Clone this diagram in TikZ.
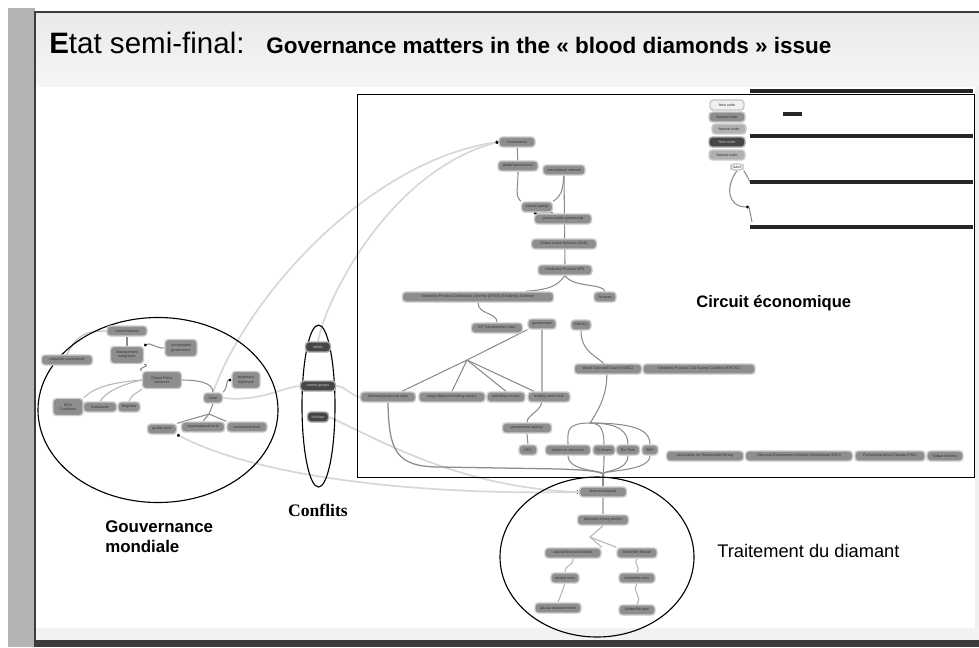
\documentclass[tikz,border=0pt]{standalone}
\usepackage{fontspec}
\setmainfont{Liberation Sans}
\newfontfamily\serifbf{Liberation Serif}
\usetikzlibrary{positioning, arrows.meta, shapes.geometric, calc}
\definecolor{NodeGray}{RGB}{142,142,142}
\definecolor{NodeDark}{RGB}{70,70,70}
\definecolor{LinkGray}{RGB}{140,140,140}
\definecolor{SoftGray}{RGB}{185,185,185}
\definecolor{FarGray}{RGB}{215,215,215}
\definecolor{StripGray}{RGB}{180,180,180}
\definecolor{FrameDark}{RGB}{60,60,60}
\def\pxu{0.025cm}
\pgfdeclarelayer{bg}
\pgfdeclarelayer{edges}
\pgfsetlayers{bg,edges,main}
\tikzset{
  cbox/.style={rectangle, rounded corners=2.4pt, fill=NodeGray, draw=gray!40, line width=1pt,
    inner sep=0.4pt, minimum height=10*\pxu, font=\fontsize{2.6}{3}\selectfont, text=black!80},
  dbox/.style={cbox, fill=NodeDark, draw=gray!65, text=gray!45},
  lbox/.style={cbox, fill=gray!12, draw=gray!45},
  twoline/.style={align=center, minimum height=17*\pxu},
  link/.style={draw=LinkGray, line width=0.75pt},
  softlink/.style={draw=SoftGray, line width=0.8pt},
  farlink/.style={draw=FarGray, line width=1.2pt},
  zone/.style={draw=black, ellipse, line width=0.8pt, inner sep=0pt},
  legbar/.style={draw=black!85, line width=2.3pt},
  blackdot/.style={-{Circle[length=2pt, color=black]}},
}

\begin{document}
\begin{tikzpicture}[x=0.025cm, y=-0.025cm, >=Latex]
\useasboundingbox (0,0) rectangle (979,647);
% slide frame
\begin{pgfonlayer}{bg}
  \fill[white] (0,0) rectangle (979,647);
  \fill[StripGray] (8,8) rectangle (35,647);
  \shade[top color=gray!17, bottom color=gray!7] (35,12) rectangle (979,86);
  \fill[gray!10] (35,628) rectangle (979,640);
  \fill[FrameDark] (35,640) rectangle (979,647);
  \fill[gray!12] (975,86) rectangle (979,628);
  \draw[FrameDark, line width=1.2pt] (979,12) -- (35,12) -- (35,647);
\end{pgfonlayer}

% Title
\node[inner sep=0, anchor=base west, font=\fontsize{21}{25}\selectfont] (title) at (49,53) {{\bfseries E}tat semi-final:};
\node[inner sep=0, anchor=base west, font=\bfseries\fontsize{16}{19}\selectfont] (subtitle) at (266,53) {Governance matters in the « blood diamonds » issue};

% Circuit economique box
\node[draw, line width=0.9pt, inner sep=0, anchor=north west, minimum width=617*\pxu, minimum height=383*\pxu] (circuitbox) at (357,94) {};
\node[inner sep=0, anchor=base west, font=\bfseries\fontsize{11.8}{14}\selectfont] (circuitlbl) at (696,307) {Circuit économique};

% legend
\draw[legbar] (750,91) -- (973,91);
\draw[legbar] (783,114) -- (802,114);
\draw[legbar] (750,136) -- (973,136);
\draw[legbar] (750,182) -- (973,182);
\draw[legbar] (750,227) -- (973,227);
\node[lbox, minimum width=34*\pxu] (lnew) at (727,105) {New node};
\node[cbox, minimum width=36*\pxu] (lnorm1) at (727,117) {Normal node};
\node[cbox, fill=gray!60, minimum width=34*\pxu] (lnorm2) at (729,129) {Normal node};
\node[dbox, minimum width=36*\pxu] (lroot) at (727,142) {Root node};
\node[cbox, fill=gray!62, minimum width=36*\pxu] (lnorm3) at (727,155) {Normal node};
\node[lbox, fill=white, minimum width=12*\pxu, minimum height=6*\pxu] (llab) at (737,167) {label};
\coordinate (ldot) at (749,207);

% Circuit nodes
\node[cbox, minimum width=36*\pxu] (cgov) at (517,142) {Governance};
\node[cbox, minimum width=40*\pxu] (cglob) at (518,166) {global governance};
\node[cbox, minimum width=42*\pxu] (cnet) at (564,170) {international network};
\node[cbox, minimum width=31*\pxu] (cgrp) at (537,207) {interest group};
\node[cbox, minimum width=57*\pxu] (cppp) at (563,219) {private public partnership};
\node[cbox, minimum width=65*\pxu] (cgan) at (564,244) {Global Action Network (GAN)};
\node[cbox, minimum width=54*\pxu] (ckp) at (565,270) {Kimberley Process (KP)};
\node[cbox, minimum width=151*\pxu] (ckpcs) at (478,297) {Kimberley Process Certification Scheme (KPCS) (Kimberley Scheme)};
\node[cbox, minimum width=22*\pxu] (csrc) at (605,297) {Sources};
\node[cbox, minimum width=51*\pxu] (ctrans) at (497,328) {KP Transparency rules};
\node[cbox, minimum width=28*\pxu] (cgovt) at (542,324) {government};
\node[cbox, minimum width=20*\pxu] (cind) at (581,325) {industry};
\node[cbox, minimum width=67*\pxu] (cwdc) at (608,369) {World Diamond Council (WDC)};
\node[cbox, minimum width=112*\pxu] (ckpcsc) at (699,369) {Kimberley Process Civil Society Coalition (KPCSC)};
\node[cbox, minimum width=55*\pxu] (cprod) at (388,397) {diamond producing state};
\node[cbox, minimum width=66*\pxu] (crough) at (452,397) {rough diamond trading country};
\node[cbox, minimum width=38*\pxu] (cpol) at (506,397) {polishing country};
\node[cbox, minimum width=42*\pxu] (ctrade) at (549,397) {trading centre hub};
\node[cbox, minimum width=49*\pxu] (cagency) at (527,428) {government agency};
\node[cbox, minimum width=18*\pxu] (cddi) at (528,450) {DDII};
\node[cbox, minimum width=45*\pxu] (cdeal) at (568,450) {dealers in diamonds};
\node[cbox, minimum width=22*\pxu] (cbeers) at (604,450) {De Beers};
\node[cbox, minimum width=23*\pxu] (crio) at (628,450) {Rio Tinto};
\node[cbox, minimum width=16*\pxu] (cbhp) at (650,450) {BHP};
\node[cbox, minimum width=77*\pxu] (carm) at (705,456) {Association for Responsible Mining};
\node[cbox, minimum width=107*\pxu] (cddii) at (799,456) {Diamond Development Initiative International (DDII)};
\node[cbox, minimum width=70*\pxu] (cpac) at (890,456) {Partnership Africa Canada (PAC)};
\node[cbox, minimum width=36*\pxu] (cgw) at (945,456) {Global Witness};

% Gouvernance mondiale
\node[zone, minimum width=240*\pxu, minimum height=185*\pxu] (gouvzone) at (158,410) {};
\node[cbox, minimum width=40*\pxu] (gun) at (127,331) {United Nations};
\node[cbox, minimum width=51*\pxu] (gcorp) at (67,360) {corporate governance};
\node[cbox, twoline, minimum width=33*\pxu] (gman) at (127,355) {Management\\Integration};
\node[cbox, twoline, minimum width=32*\pxu] (gacc) at (181,348) {accountable\\governance};
\node[cbox, twoline, minimum width=39*\pxu] (gpol) at (162,380) {Global Policy\\Networks};
\node[cbox, twoline, minimum width=28*\pxu] (glegit) at (246,380) {legitimacy\\legitimate};
\node[cbox, minimum width=19*\pxu] (ghub) at (213,398) {State};
\node[cbox, twoline, minimum width=30*\pxu] (gngo) at (68,407) {NGO\\Coalitions};
\node[cbox, minimum width=33*\pxu] (ginsti) at (100,407) {Institutions};
\node[cbox, minimum width=22*\pxu] (greg) at (129,407) {Regimes};
\node[cbox, minimum width=29*\pxu] (gqual) at (162,429) {quality level};
\node[cbox, minimum width=43*\pxu] (gorg) at (203,427) {organisational level};
\node[cbox, minimum width=40*\pxu] (glev) at (247,427) {institutional level};
\node[inner sep=0, anchor=base west, align=left, font=\bfseries\fontsize{12}{14.2}\selectfont] (gouvlbl) at (105,552) {Gouvernance\\mondiale};

% Conflits
\node[zone, minimum width=33*\pxu, minimum height=162*\pxu] (conflitzone) at (318.5,406) {};
\node[dbox, minimum width=25*\pxu] (krebel) at (318,347) {rebels};
\node[dbox, minimum width=35*\pxu] (karmed) at (318,386) {armed groups};
\node[dbox, minimum width=21*\pxu] (kwar) at (318,417) {civil war};
\node[inner sep=0, anchor=base, font=\serifbf\bfseries\fontsize{12.5}{15}\selectfont] (conflitlbl) at (318,516) {Conflits};

% Traitement du diamant
\node[zone, minimum width=194*\pxu, minimum height=160*\pxu] (traitzone) at (597,557) {};
\node[cbox, minimum width=47*\pxu] (tdep) at (603,492) {diamond deposit};
\node[cbox, minimum width=51*\pxu] (tproj) at (603,520) {diamond mining project};
\node[cbox, minimum width=56*\pxu] (talluv) at (573,553) {alluvial diamond deposit};
\node[cbox, minimum width=40*\pxu] (tkimb) at (637,553) {kimberlite deposit};
\node[cbox, minimum width=28*\pxu] (talmine) at (565,578) {alluvial mine};
\node[cbox, minimum width=36*\pxu] (tkmine) at (637,578) {kimberlite mine};
\node[cbox, minimum width=46*\pxu] (tminer) at (558,608) {alluvial diamond miner};
\node[cbox, minimum width=36*\pxu] (tpipe) at (637,610) {kimberlite pipe};
\node[inner sep=0, anchor=base west, font=\fontsize{13}{15}\selectfont] (traitlbl) at (717,557) {Traitement du diamant};

\begin{pgfonlayer}{edges}
  % links between the zones
  \draw[farlink, blackdot] (ghub.north) .. controls (248,295) and (370,160) .. (cgov.west);
  \draw[farlink, blackdot] (krebel.north) .. controls (325,300) and (390,170) .. (cgov.west);
  \draw[farlink, {Circle[length=2pt, color=black]}-{Circle[length=2pt, color=black]}] (gqual.south east) .. controls (260,478) and (420,495) .. (tdep.west);
  \draw[farlink] (kwar.east) .. controls (380,440) and (460,488) .. (tdep.west);
  \draw[farlink] (karmed.east) .. controls (345,386) and (350,395) .. (cprod.west);
  \draw[farlink] (ghub.east) .. controls (260,402) and (280,388) .. (karmed.west);
  % circuit
  \draw[link] (cgov) -- (cglob);
  \draw[link] (cglob.south) .. controls +(0,18) and +(-6,-6) .. (cgrp.north west);
  \draw[link] (cnet.south) .. controls +(-2,18) and +(8,-6) .. (cgrp.north east);
  \draw[link] (cnet.south) -- (ckp.north);
  \draw[link, blackdot] (cgrp.south east) -- (cppp.north west);
  \draw[link] (ckp.south) .. controls +(-8,10) and +(25,-2) .. ($(ckpcs.north)+(48,0)$);
  \draw[link] (ckp.south) .. controls +(8,12) and +(-2,-8) .. (csrc.north);
  \draw[link] (ckpcs.south) .. controls +(0,12) and +(0,-10) .. (ctrans.north);
  \coordinate (cfork) at (467,360);
  \draw[link] (cfork) -- (cgovt.south west);
  \draw[link] (cfork) -- ($(cprod.north)+(14,0)$);
  \draw[link] (cfork) -- (crough.north);
  \draw[link] (cfork) -- (cpol.north);
  \draw[link] (cfork) -- ($(ctrade.north)+(-15,0)$);
  \draw[link] (cgovt.south) -- ++(0,70) .. controls +(0,12) and +(0,-8) .. (cagency.north);
  \draw[link] (cagency.south) -- (cddi.north);
  \coordinate (cbund) at (590,423);
  \coordinate (cmeet) at (603,474);
  \draw[link] (cind.south) .. controls +(0,22) and +(-8,-10) .. (606,366) .. controls +(4,25) and +(8,-12) .. (cbund);
  \foreach \nd/\dx in {cdeal/-25, cbeers/12, crio/30, cbhp/50} {
    \draw[link] (cbund) .. controls +(\dx,0) and +(0,-12) .. (\nd.north);
    \draw[link] (\nd.south) .. controls +(0,16) and +(0,-4) .. (cmeet);
  }
  \draw[link, line width=0.9pt] (cprod.south) .. controls (389,450) and (395,467) .. (440,467) -- (560,469) .. controls (585,470) and (598,471) .. (cmeet);
  \draw[link] (cmeet) -- (tdep.north);
  % legend
  \draw[link, blackdot] (llab.south) .. controls (726,185) and (726,207) .. (ldot);
  \draw[link] (llab.south east) .. controls (745,172) and (748,178) .. (750,182);
  \draw[link] (ldot) -- (752,222);
  % gouvernance
  \draw[link] (gun) -- (gman);
  \draw[link, blackdot] (gacc.west) .. controls +(-10,0) and +(6,-4) .. (gman.north east);
  \draw[link] (gman.south east) .. controls +(8,2) and +(-6,-3) .. (gpol.north west);
  \draw[link] (gpol.east) .. controls +(15,0) and +(0,-10) .. (ghub.north);
  \draw[link, blackdot] (ghub.north east) .. controls +(6,-8) and +(-6,0) .. (glegit.west);
  \coordinate (gfork) at (209,414);
  \draw[link] (ghub.south) -- (gfork);
  \draw[link] (gfork) -- (gqual.north east);
  \draw[link] (gfork) -- (gorg.north);
  \draw[link] (gfork) -- (glev.north west);
  \draw[softlink] (gpol.west) .. controls +(-25,2) and +(12,-12) .. (gngo.north east);
  \draw[softlink] (gpol.west) .. controls +(-18,4) and +(6,-10) .. (ginsti.north);
  \draw[softlink] (gpol.south west) .. controls +(-8,6) and +(4,-8) .. (greg.north);
  \draw[softlink] (gcorp.north) .. controls +(10,-20) and +(-20,0) .. (gun.west);
  % traitement
  \draw[softlink] (tdep) -- (tproj);
  \coordinate (tfork) at (590,537);
  \draw[softlink] (tproj.south) -- (tfork) -- (talluv.north east);
  \draw[softlink] (tfork) -- (tkimb.north west);
  \draw[softlink] (talluv.south) .. controls +(0,8) and +(0,-8) .. (talmine.north);
  \draw[softlink] (talmine.south) .. controls +(-4,10) and +(4,-10) .. (tminer.north);
  \draw[softlink] (tkimb.south) .. controls +(-4,8) and +(4,-8) .. (tkmine.north);
  \draw[softlink] (tkmine.south) .. controls +(-6,10) and +(6,-10) .. (tpipe.north);
\end{pgfonlayer}
\end{tikzpicture}
\end{document}
